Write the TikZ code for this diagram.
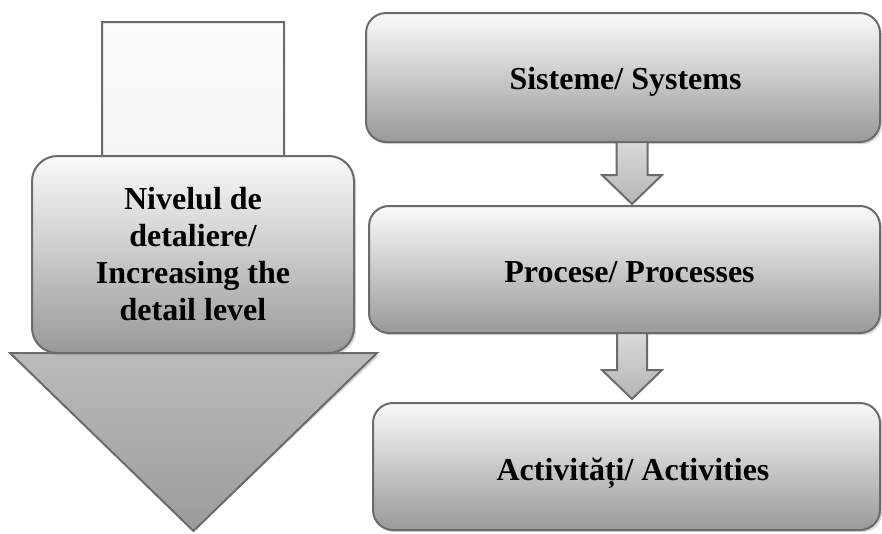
\documentclass[tikz,border=0pt]{standalone}
\usepackage{fontspec}
\setmainfont{Liberation Serif}
\usetikzlibrary{calc,shadows}
\definecolor{edge}{HTML}{6B6B6B}
\definecolor{boxtop}{HTML}{FAFAFA}
\definecolor{boxbot}{HTML}{999999}
\definecolor{stemtop}{HTML}{FCFCFC}
\definecolor{stembot}{HTML}{EAEAEA}
\definecolor{headtop}{HTML}{BBBBBB}
\definecolor{headbot}{HTML}{9C9C9C}
\definecolor{satop}{HTML}{D9D9D9}
\definecolor{sabot}{HTML}{B5B5B5}
\tikzset{
  boxshadow/.style={drop shadow={shadow xshift=1.6pt,shadow yshift=-1.6pt,opacity=0.35,fill=black!45}},
  gbox/.style={draw=edge,line width=1.5pt,top color=boxtop,bottom color=boxbot,
    inner sep=0pt,outer sep=0pt,boxshadow},
  rbox/.style={gbox,rounded corners=15pt},
  lbox/.style={gbox,rounded corners=19pt,align=center,
    font=\fontsize{24}{27.75}\selectfont\bfseries},
  btext/.style={font=\fontsize{24}{27.75}\selectfont\bfseries,inner sep=0pt,anchor=base},
  smallarrow/.style={draw=edge,line width=1.5pt,top color=satop,bottom color=sabot,line join=miter},
  arrowline/.style={draw=edge,line width=1.5pt,line join=miter}
}
\begin{document}
\begin{tikzpicture}[x=0.75pt,y=-0.75pt]
\useasboundingbox (0,0) rectangle (882,533);
% big left arrow
\coordinate (stl) at (102,22);
\coordinate (str) at (284,22);
\coordinate (tip) at (193.5,531);
\fill[black!45,opacity=0.35,xshift=1.8pt,yshift=-1.8pt]
  (stl) -- (str) -- (284,353) -- (377,353) -- (tip) -- (10,353) -- (102,353) -- cycle;
\shade[top color=stemtop,bottom color=stembot] (stl) rectangle (284,353);
\shade[top color=headtop,bottom color=headbot] (10,353) -- (377,353) -- (tip) -- cycle;
\draw[arrowline] (stl) -- (str) -- (284,353) -- (377,353) -- (tip) -- (10,353) -- (102,353) -- cycle;
% left box
\node[lbox,minimum width=241.5pt,minimum height=147.75pt] (lvl) at (193,254.5)
  {Nivelul de\\detaliere/\\Increasing the\\detail level};
% right boxes
\node[rbox,minimum width=385.5pt,minimum height=96.75pt] (sys) at (623,77.5) {};
\node[rbox,minimum width=383.25pt,minimum height=95.25pt] (pro) at (624.5,269.5) {};
\node[rbox,minimum width=380.25pt,minimum height=95.25pt] (act) at (626.5,466.5) {};
\node[btext] (systxt) at (625.5,89) {Sisteme/ Systems};
\node[btext] (protxt) at (629.5,282) {Procese/ Processes};
\node[btext] (acttxt) at (633,480) {Activități/ Activities};
% small block arrows
\coordinate (ax) at (632,0);
\path (sys.south -| ax) coordinate (a1) (pro.north -| ax) coordinate (t1);
\path (pro.south -| ax) coordinate (a2) (act.north -| ax) coordinate (t2);
\draw[smallarrow] ($(a1)+(-15.5,0)$) -- ($(a1)+(-15.5,33)$) -- ($(a1)+(-30,33)$)
  -- ($(t1)+(0,-2)$) -- ($(a1)+(30,33)$) -- ($(a1)+(15.5,33)$) -- ($(a1)+(15.5,0)$) -- cycle;
\draw[smallarrow] ($(a2)+(-15,0)$) -- ($(a2)+(-15,37)$) -- ($(a2)+(-30,37)$)
  -- ($(t2)+(0,-4)$) -- ($(a2)+(30,37)$) -- ($(a2)+(15,37)$) -- ($(a2)+(15,0)$) -- cycle;
\end{tikzpicture}
\end{document}
